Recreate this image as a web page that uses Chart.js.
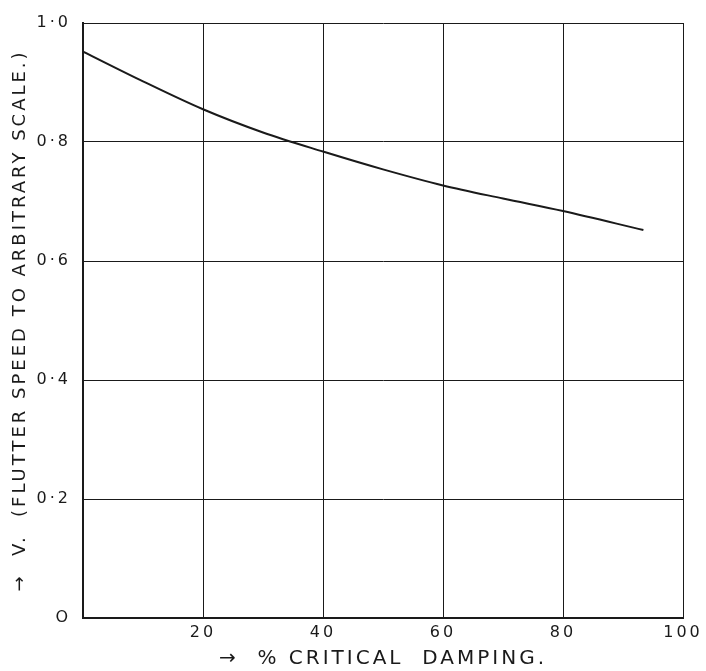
<!DOCTYPE html>
<html>
<head>
<meta charset="utf-8">
<script src="https://cdn.jsdelivr.net/npm/chart.js@4"></script>
<style>
  body { margin: 0; background: #fff; }
  #wrap { width: 706px; height: 671px; }
</style>
</head>
<body>
<div id="wrap"><canvas id="flutterChart"></canvas></div>
<script>
// % critical damping vs flutter speed (arbitrary scale)
const damping = [0, 10, 20, 30, 40, 50, 60, 70, 80, 93.4];
const flutterSpeed = [0.952, 0.902, 0.855, 0.816, 0.784, 0.754, 0.727, 0.705, 0.684, 0.652];

const xTicks = [0, 20, 40, 60, 80, 100];
const yTickLabels = { 0: 'O', 0.2: '0·2', 0.4: '0·4', 0.6: '0·6', 0.8: '0·8', 1: '1·0' };

const ink = '#1a1a1a';
const fontFamily = '"DejaVu Sans", sans-serif';

// hand lettered look: spread the letters a little
const spacingPlugin = {
    id: 'spacing',
    beforeDraw(chart) {
        chart.ctx.letterSpacing = '3px';
    },
    afterDraw(chart) {
        chart.ctx.letterSpacing = '0px';
    }
};

const ctx = document.getElementById('flutterChart').getContext('2d');
const flutterChart = new Chart(ctx, {
    type: 'line',
    data: {
        datasets: [{
            data: damping.map((d, i) => ({ x: d, y: flutterSpeed[i] })),
            borderColor: ink,
            borderWidth: 2,
            pointRadius: 0,
            cubicInterpolationMode: 'monotone',
            fill: false
        }]
    },
    options: {
        responsive: true,
        maintainAspectRatio: false,
        animation: false,
        layout: {
            padding: { left: 0, right: 23, top: 23, bottom: 0 }
        },
        plugins: {
            legend: { display: false },
            tooltip: { enabled: false }
        },
        scales: {
            x: {
                type: 'linear',
                min: 0,
                max: 100,
                afterBuildTicks(scale) {
                    scale.ticks = xTicks.map(v => ({ value: v }));
                },
                afterFit(scale) {
                    scale.height = 53;
                },
                grid: { color: ink, lineWidth: 1, drawTicks: false },
                border: { display: true, color: ink, width: 2 },
                ticks: {
                    color: ink,
                    padding: 5,
                    maxRotation: 0,
                    font: { family: fontFamily, size: 16 },
                    callback: v => (v === 0 ? '' : String(v))
                },
                title: {
                    display: true,
                    text: '→  % CRITICAL  DAMPING.',
                    color: ink,
                    font: { family: fontFamily, size: 20 },
                    padding: { top: 0, bottom: 0 }
                }
            },
            y: {
                min: 0,
                max: 1,
                afterBuildTicks(scale) {
                    scale.ticks = [0, 0.2, 0.4, 0.6, 0.8, 1].map(v => ({ value: v }));
                },
                afterFit(scale) {
                    scale.width = 83;
                },
                grid: { color: ink, lineWidth: 1, drawTicks: false },
                border: { display: true, color: ink, width: 2 },
                ticks: {
                    color: ink,
                    padding: 12,
                    font: { family: fontFamily, size: 16 },
                    callback: v => yTickLabels[Math.round(v * 10) / 10]
                },
                title: {
                    display: true,
                    text: '→  V.  (FLUTTER SPEED TO ARBITRARY SCALE.)',
                    color: ink,
                    font: { family: fontFamily, size: 18 },
                    padding: { top: 10, bottom: 0 }
                }
            }
        }
    },
    plugins: [spacingPlugin]
});
</script>
</body>
</html>
